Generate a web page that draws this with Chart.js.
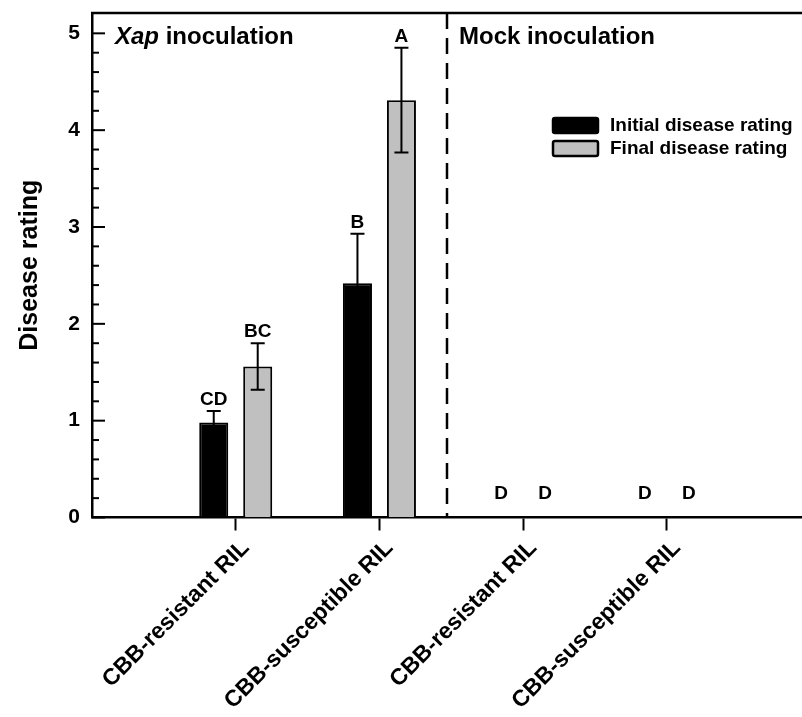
<!DOCTYPE html>
<html>
<head>
<meta charset="utf-8">
<script src="https://cdn.jsdelivr.net/npm/chart.js@4"></script>
<style>
  html, body { margin: 0; padding: 0; background: #fff; }
</style>
</head>
<body>
<canvas id="c" width="802" height="717"></canvas>
<script>
// data
const categories = ['CBB-resistant RIL', 'CBB-susceptible RIL', 'CBB-resistant RIL', 'CBB-susceptible RIL'];
const initialRating = [0.98, 2.42, 0, 0];
const initialErr = [0.12, 0.51, 0, 0];
const finalRating = [1.56, 4.31, 0, 0];
const finalErr = [0.24, 0.54, 0, 0];
const initialLetters = ['CD', 'B', 'D', 'D'];
const finalLetters = ['BC', 'A', 'D', 'D'];
const yTicks = [0, 1, 2, 3, 4, 5];
const seriesNames = ['Initial disease rating', 'Final disease rating'];
const dividerAt = 2.47;

const FONT = "'Liberation Sans', Arial, sans-serif";
const GRAY = '#c0c0c0';

const decor = {
  id: 'decor',
  afterDatasetsDraw(chart) {
    const { ctx, chartArea: a, scales: { x, y } } = chart;
    ctx.save();
    ctx.strokeStyle = '#000';
    ctx.fillStyle = '#000';

    // top frame line
    ctx.lineWidth = 2.5;
    ctx.beginPath();
    ctx.moveTo(a.left - 1, a.top);
    ctx.lineTo(a.right, a.top);
    ctx.stroke();

    // inward y ticks, minor every 0.2
    ctx.lineWidth = 2;
    for (let i = 0; i <= 25; i++) {
      const py = y.getPixelForValue(i / 5);
      const len = i % 5 === 0 ? 13 : 7;
      ctx.beginPath();
      ctx.moveTo(a.left, py);
      ctx.lineTo(a.left + len, py);
      ctx.stroke();
    }

    // dashed divider
    const dx = x.getPixelForValue(dividerAt);
    ctx.lineWidth = 2.5;
    ctx.setLineDash([16, 9]);
    ctx.beginPath();
    ctx.moveTo(dx, a.top);
    ctx.lineTo(dx, a.bottom);
    ctx.stroke();
    ctx.setLineDash([]);

    // error bars and letters
    const sets = [[initialRating, initialErr, initialLetters], [finalRating, finalErr, finalLetters]];
    ctx.font = 'bold 19px ' + FONT;
    ctx.textAlign = 'center';
    ctx.textBaseline = 'alphabetic';
    sets.forEach(([vals, errs, letters], di) => {
      chart.getDatasetMeta(di).data.forEach((bar, i) => {
        const cx = bar.x;
        ctx.lineWidth = 2;
        if (errs[i] > 0) {
          const t = y.getPixelForValue(vals[i] + errs[i]);
          const b = y.getPixelForValue(vals[i] - errs[i]);
          ctx.beginPath();
          ctx.moveTo(cx, t); ctx.lineTo(cx, b);
          ctx.moveTo(cx - 7, t); ctx.lineTo(cx + 7, t);
          ctx.moveTo(cx - 7, b); ctx.lineTo(cx + 7, b);
          ctx.stroke();
        }
        const top = vals[i] + errs[i];
        const ly = top > 0 ? y.getPixelForValue(top) - 6 : y.getPixelForValue(0) - 19;
        ctx.fillText(letters[i], cx, ly);
      });
    });

    // panel titles
    ctx.textAlign = 'left';
    const ty = a.top + 31;
    ctx.font = 'italic bold 24px ' + FONT;
    ctx.fillText('Xap', a.left + 23, ty);
    const w = ctx.measureText('Xap').width;
    ctx.font = 'bold 24px ' + FONT;
    ctx.fillText(' inoculation', a.left + 23 + w, ty);
    ctx.fillText('Mock inoculation', dx + 12, ty);

    // legend
    const lx = 552, ly0 = 117;
    ctx.font = 'bold 19px ' + FONT;
    ctx.textBaseline = 'middle';
    chart.data.datasets.forEach((ds, i) => {
      const by = ly0 + i * 23;
      ctx.beginPath();
      ctx.roundRect(lx + 1, by + 1, 45, 15, 2);
      ctx.fillStyle = ds.backgroundColor;
      ctx.fill();
      ctx.lineWidth = 2.5;
      ctx.strokeStyle = '#000';
      ctx.stroke();
      ctx.fillStyle = '#000';
      ctx.fillText(ds.label, lx + 58, by + 9);
    });
    ctx.restore();
  }
};

new Chart(document.getElementById('c'), {
  type: 'bar',
  data: {
    datasets: [
      {
        label: seriesNames[0],
        data: initialRating.map((v, i) => ({ x: i + 1, y: v })),
        backgroundColor: '#000',
        borderColor: '#000',
        borderWidth: 2
      },
      {
        label: seriesNames[1],
        data: finalRating.map((v, i) => ({ x: i + 1, y: v })),
        backgroundColor: GRAY,
        borderColor: '#000',
        borderWidth: 2
      }
    ]
  },
  options: {
    responsive: false,
    animation: false,
    layout: { padding: { top: 13, left: 0, right: 0, bottom: 0 } },
    categoryPercentage: 0.612,
    barPercentage: 0.66,
    plugins: { legend: { display: false }, tooltip: { enabled: false } },
    scales: {
      x: {
        type: 'linear',
        offset: false,
        min: 0,
        max: 4.94,
        afterBuildTicks: s => { s.ticks = categories.map((c, i) => ({ value: i + 1 })); },
        ticks: {
          callback: v => categories[v - 1] || '',
          minRotation: 45,
          maxRotation: 45,
          autoSkip: false,
          color: '#000',
          padding: 4,
          labelOffset: 10,
          font: { family: FONT, size: 23, weight: 'bold' }
        },
        grid: { offset: false, drawOnChartArea: false, drawTicks: true, tickLength: 13, tickWidth: 2, tickColor: '#000' },
        border: { display: true, color: '#000', width: 2.5 },
        afterFit: s => { s.height = 199.5; s.paddingLeft = 0; s.paddingRight = 0; }
      },
      y: {
        min: 0,
        max: 5.21,
        afterBuildTicks: s => { s.ticks = yTicks.map(v => ({ value: v })); },
        ticks: { color: '#000', padding: 12, font: { family: FONT, size: 21, weight: 'bold' } },
        grid: { drawOnChartArea: false, drawTicks: false },
        border: { display: true, color: '#000', width: 2.5 },
        title: {
          display: true,
          text: 'Disease rating',
          color: '#000',
          font: { family: FONT, size: 25, weight: 'bold' },
          padding: { top: 15, bottom: 0 }
        },
        afterFit: s => { s.width = 92; s.paddingTop = 0; s.paddingBottom = 0; }
      }
    }
  },
  plugins: [decor]
});
</script>
</body>
</html>
